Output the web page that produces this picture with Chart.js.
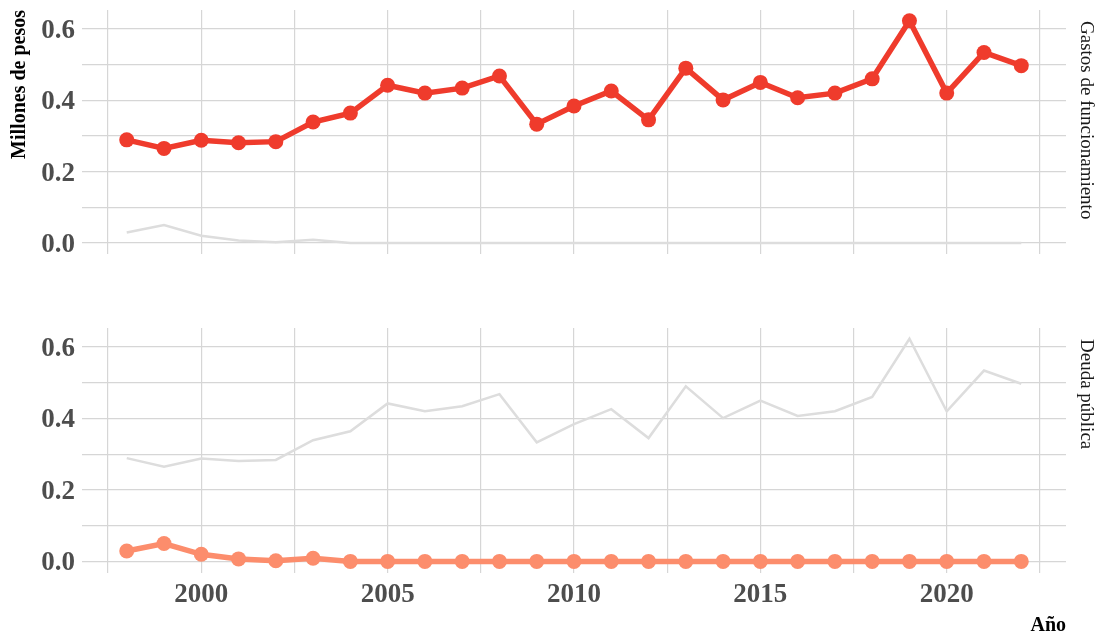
<!DOCTYPE html>
<html>
<head>
<meta charset="utf-8">
<script src="https://cdn.jsdelivr.net/npm/chart.js@4"></script>
<style>
  body { margin: 0; background: #fff; }
  #wrap { position: relative; width: 1097px; height: 635px; overflow: hidden; }
  canvas { position: absolute; left: 0; }
</style>
</head>
<body>
<div id="wrap">
  <canvas id="topChart" width="1097" height="290" style="top:0"></canvas>
  <canvas id="bottomChart" width="1097" height="345" style="top:290px"></canvas>
</div>
<script>
// data (millones de pesos)
const years = [1998, 1999, 2000, 2001, 2002, 2003, 2004, 2005, 2006, 2007, 2008, 2009, 2010,
  2011, 2012, 2013, 2014, 2015, 2016, 2017, 2018, 2019, 2020, 2021, 2022];
const gastosFuncionamiento = [0.289, 0.265, 0.288, 0.281, 0.284, 0.339, 0.364, 0.442, 0.420, 0.434,
  0.468, 0.333, 0.384, 0.426, 0.345, 0.490, 0.401, 0.450, 0.407, 0.420, 0.460, 0.623, 0.420, 0.534, 0.497];
const deudaPublica = [0.029, 0.050, 0.020, 0.007, 0.002, 0.009, 0, 0, 0, 0,
  0, 0, 0, 0, 0, 0, 0, 0, 0, 0, 0, 0, 0, 0, 0];
const xTicks = [1997.5, 2000, 2002.5, 2005, 2007.5, 2010, 2012.5, 2015, 2017.5, 2020, 2022.5];
const yTicks = [0, 0.1, 0.2, 0.3, 0.4, 0.5, 0.6];
const panelLabels = ["Gastos de funcionamiento", "Deuda pública"];

const RED = "#ef3b2c";
const SALMON = "#fc8d6c";
const GREY = "#dddddd";
const GRID = "#d6d6d6";
const tickFont = { family: "'Liberation Serif', serif", size: 27, weight: "bold" };

function toPoints(values) {
  return years.map((yr, i) => ({ x: yr, y: values[i] }));
}

// text outside the plot: facet strip, axis titles
function textPlugin(label, extras) {
  return {
    id: "panelText",
    afterDraw(chart) {
      const ctx = chart.ctx;
      const area = chart.chartArea;
      ctx.save();
      ctx.fillStyle = "#1a1a1a";
      ctx.font = "19px 'Liberation Serif', serif";
      ctx.translate(1080, area.top + 11);
      ctx.rotate(Math.PI / 2);
      ctx.textAlign = "left";
      ctx.textBaseline = "middle";
      ctx.fillText(label, 0, -6);
      ctx.restore();
      if (extras) extras(ctx, area);
    },
  };
}

function makeChart(id, highlight, highlightColor, other, label, showX, pad, xHeight, extras) {
  const ctx = document.getElementById(id).getContext("2d");
  return new Chart(ctx, {
    type: "line",
    data: {
      datasets: [
        {
          data: toPoints(highlight),
          borderColor: highlightColor,
          backgroundColor: highlightColor,
          borderWidth: 5.5,
          pointRadius: 7.5,
          pointHoverRadius: 7.5,
          pointBorderWidth: 0,
          tension: 0,
        },
        {
          data: toPoints(other),
          borderColor: GREY,
          borderWidth: 2.5,
          pointRadius: 0,
          tension: 0,
        },
      ],
    },
    options: {
      responsive: false,
      animation: false,
      events: [],
      layout: { padding: { top: pad, right: 31, left: 0, bottom: 0 } },
      plugins: { legend: { display: false }, tooltip: { enabled: false } },
      scales: {
        x: {
          type: "linear",
          min: 1996.8,
          max: 2023.2,
          afterBuildTicks: (scale) => { scale.ticks = xTicks.map((v) => ({ value: v })); },
          afterFit: (scale) => {
            scale.height = xHeight;
            scale.paddingLeft = 0;
            scale.paddingRight = 0;
          },
          grid: { color: GRID, lineWidth: 1.2, drawTicks: false },
          border: { display: false },
          ticks: {
            display: showX,
            padding: 6,
            color: "#4d4d4d",
            font: tickFont,
            maxRotation: 0,
            autoSkip: false,
            callback: (v) => (v % 5 === 0 ? String(v) : ""),
          },
        },
        y: {
          min: -0.031,
          max: 0.653,
          afterBuildTicks: (scale) => { scale.ticks = yTicks.map((v) => ({ value: v })); },
          afterFit: (scale) => {
            scale.width = 82;
            scale.paddingTop = 0;
            scale.paddingBottom = 0;
          },
          grid: { color: GRID, lineWidth: 1.2, drawTicks: false },
          border: { display: false },
          ticks: {
            padding: 7,
            labelOffset: 2,
            color: "#4d4d4d",
            font: tickFont,
            callback: (v) => (Math.round(v * 10) % 2 === 0 ? v.toFixed(1) : ""),
          },
        },
      },
    },
    plugins: [textPlugin(label, extras)],
  });
}

document.addEventListener("DOMContentLoaded", () => {
  // top panel: gastos de funcionamiento highlighted
  makeChart("topChart", gastosFuncionamiento, RED, deudaPublica, panelLabels[0], false, 10, 36,
    (ctx, area) => {
      ctx.save();
      ctx.fillStyle = "#000";
      ctx.font = "bold 20px 'Liberation Serif', serif";
      ctx.translate(20, area.top);
      ctx.rotate(-Math.PI / 2);
      ctx.textAlign = "right";
      ctx.textBaseline = "middle";
      ctx.fillText("Millones de pesos", 0, 0);
      ctx.restore();
    });

  // bottom panel: deuda pública highlighted
  makeChart("bottomChart", deudaPublica, SALMON, gastosFuncionamiento, panelLabels[1], true, 38, 62.5,
    (ctx, area) => {
      ctx.save();
      ctx.fillStyle = "#000";
      ctx.font = "bold 20px 'Liberation Serif', serif";
      ctx.textAlign = "right";
      ctx.textBaseline = "alphabetic";
      ctx.fillText("Año", area.right, 341);
      ctx.restore();
    });
});
</script>
</body>
</html>
